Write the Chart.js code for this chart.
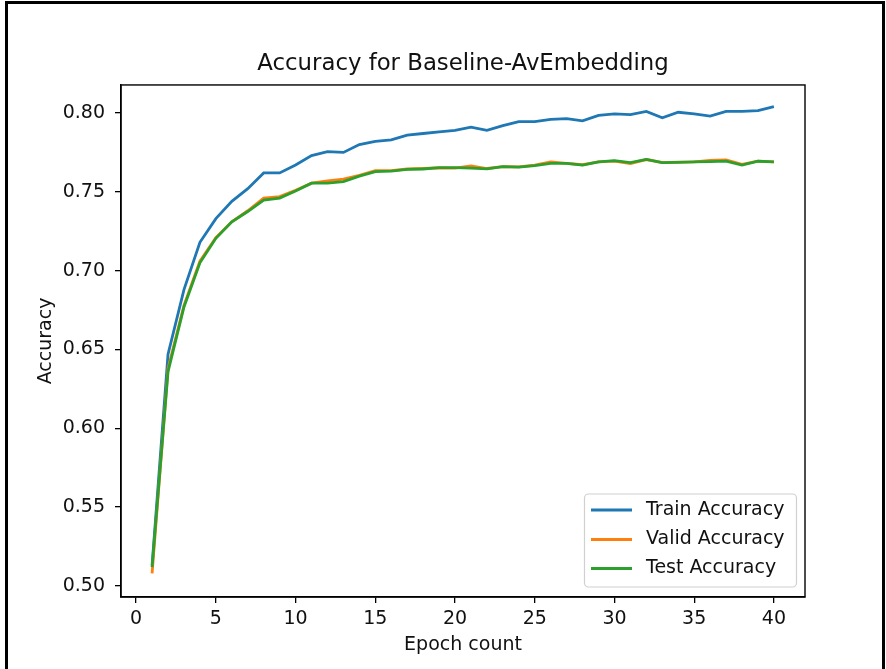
<!DOCTYPE html>
<html>
<head>
<meta charset="utf-8">
<script src="https://cdn.jsdelivr.net/npm/chart.js@4/dist/chart.umd.min.js"></script>
<style>
  html, body { margin: 0; padding: 0; background: #fff; }
  #wrap { position: relative; width: 886px; height: 669px; overflow: hidden; }
  #c { position: absolute; left: 0; top: 0; }
  #frame { position: absolute; left: 5px; top: 1px; width: 874px; height: 700px;
           border: 3px solid #000; pointer-events: none; }
</style>
</head>
<body>
<div id="wrap">
  <canvas id="c" width="886" height="669"></canvas>
  <div id="frame"></div>
</div>
<script>
// ---- data ----
const epochs = [1,2,3,4,5,6,7,8,9,10,11,12,13,14,15,16,17,18,19,20,21,22,23,24,25,26,27,28,29,30,31,32,33,34,35,36,37,38,39,40];
const trainAcc = [0.513,0.647,0.688,0.718,0.733,0.744,0.752,0.762,0.762,0.767,0.773,0.7755,0.775,0.780,0.782,0.783,0.786,0.787,0.788,0.789,0.791,0.789,0.792,0.7945,0.7945,0.796,0.7965,0.795,0.7985,0.7995,0.799,0.801,0.797,0.8005,0.7995,0.798,0.801,0.801,0.8015,0.804];
const validAcc = [0.508,0.638,0.678,0.706,0.721,0.731,0.738,0.746,0.747,0.751,0.7555,0.757,0.758,0.7605,0.7635,0.7635,0.7645,0.7648,0.7652,0.765,0.7665,0.7648,0.766,0.7658,0.767,0.769,0.768,0.7672,0.769,0.7695,0.768,0.7705,0.7685,0.7688,0.769,0.770,0.7702,0.7675,0.7695,0.769];
const testAcc  = [0.512,0.636,0.677,0.705,0.7205,0.731,0.7375,0.7448,0.746,0.7505,0.7555,0.7555,0.7565,0.760,0.7628,0.7632,0.7642,0.7645,0.7654,0.7654,0.765,0.7646,0.766,0.7657,0.7666,0.768,0.768,0.767,0.769,0.7698,0.7685,0.7706,0.7685,0.7687,0.769,0.7692,0.7695,0.767,0.7694,0.769];
const seriesLabels = ['Train Accuracy','Valid Accuracy','Test Accuracy'];
const xTickValues = [0,5,10,15,20,25,30,35,40];
const yTickValues = [0.50,0.55,0.60,0.65,0.70,0.75,0.80];
const chartTitle = 'Accuracy for Baseline-AvEmbedding';
const xTitle = 'Epoch count';
const yTitle = 'Accuracy';

const colors = ['#1f77b4','#ff7f0e','#2ca02c'];
const FONT = 'DejaVu Sans';

function pts(arr){ return epochs.map((e,i)=>({x:e,y:arr[i]})); }

const framePlugin = {
  id: 'frameBox',
  afterDatasetsDraw(chart){
    const {ctx, chartArea:a} = chart;
    ctx.save();
    ctx.strokeStyle = '#000';
    ctx.lineWidth = 1.4;
    ctx.strokeRect(a.left, a.top, a.right - a.left, a.bottom - a.top);
    ctx.restore();
  }
};

const legendPlugin = {
  id: 'mplLegend',
  afterDraw(chart){
    const ctx = chart.ctx;
    const bx = 584.5, by = 494, bw = 212, bh = 93, r = 4;
    ctx.save();
    ctx.beginPath();
    ctx.moveTo(bx + r, by);
    ctx.arcTo(bx + bw, by, bx + bw, by + bh, r);
    ctx.arcTo(bx + bw, by + bh, bx, by + bh, r);
    ctx.arcTo(bx, by + bh, bx, by, r);
    ctx.arcTo(bx, by, bx + bw, by, r);
    ctx.closePath();
    ctx.fillStyle = 'rgba(255,255,255,0.85)';
    ctx.fill();
    ctx.strokeStyle = '#d0d0d0';
    ctx.lineWidth = 1.2;
    ctx.stroke();
    const rows = [510, 539.5, 568.5];
    ctx.font = '19px "' + FONT + '"';
    ctx.textBaseline = 'middle';
    ctx.textAlign = 'left';
    chart.data.datasets.forEach((ds, i) => {
      ctx.strokeStyle = ds.borderColor;
      ctx.lineWidth = 2.8;
      ctx.beginPath();
      ctx.moveTo(591, rows[i]);
      ctx.lineTo(632, rows[i]);
      ctx.stroke();
      ctx.fillStyle = '#111';
      ctx.fillText(ds.label, 646, rows[i]);
    });
    ctx.restore();
  }
};

const datasets = [trainAcc, validAcc, testAcc].map((arr, i) => ({
  label: seriesLabels[i],
  data: pts(arr),
  borderColor: colors[i],
  backgroundColor: colors[i],
  borderWidth: 2.8,
  pointRadius: 0,
  tension: 0,
  fill: false,
  order: 2 - i
}));

new Chart(document.getElementById('c'), {
  type: 'line',
  data: { datasets },
  options: {
    responsive: false,
    animation: false,
    devicePixelRatio: 1,
    layout: { padding: { left: 0, right: 81, top: 0, bottom: 0 } },
    plugins: {
      legend: { display: false },
      tooltip: { enabled: false },
      title: {
        display: true,
        fullSize: false,
        text: chartTitle,
        color: '#111',
        font: { family: FONT, size: 22.8, weight: 'normal' },
        padding: { top: 50.3, bottom: 7.3 }
      }
    },
    scales: {
      x: {
        type: 'linear',
        min: -0.95,
        max: 41.95,
        afterBuildTicks: s => { s.ticks = xTickValues.map(v => ({value: v})); },
        afterFit: s => { s.height = 72; },
        ticks: {
          color: '#111',
          font: { family: FONT, size: 19 },
          padding: 4.5,
          maxRotation: 0,
          autoSkip: false,
          callback: v => String(v)
        },
        grid: { drawOnChartArea: false, drawTicks: true, tickLength: 6, color: '#000', lineWidth: 1.3 },
        border: { display: true, color: '#000', width: 1.4 },
        title: {
          display: true, text: xTitle, color: '#111',
          font: { family: FONT, size: 19 },
          padding: { top: 0, bottom: 13 }
        }
      },
      y: {
        type: 'linear',
        min: 0.4930,
        max: 0.8178,
        afterBuildTicks: s => { s.ticks = yTickValues.map(v => ({value: v})); },
        afterFit: s => { s.width = 121; },
        ticks: {
          color: '#111',
          font: { family: FONT, size: 19 },
          padding: 10,
          autoSkip: false,
          callback: v => Number(v).toFixed(2)
        },
        grid: { drawOnChartArea: false, drawTicks: true, tickLength: 6, color: '#000', lineWidth: 1.3 },
        border: { display: true, color: '#000', width: 1.4 },
        title: {
          display: true, text: yTitle, color: '#111',
          font: { family: FONT, size: 19 },
          padding: { top: 34.5, bottom: 0 }
        }
      }
    }
  },
  plugins: [framePlugin, legendPlugin]
});
</script>
</body>
</html>
